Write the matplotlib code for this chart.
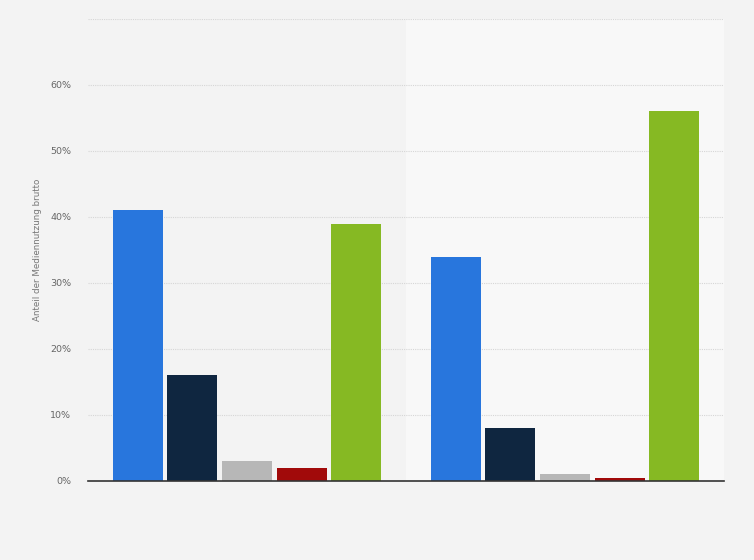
import matplotlib.pyplot as plt
import numpy as np

## Chart data
groups = ["Gruppe 1", "Gruppe 2"]
series_names = ["Serie 1", "Serie 2", "Serie 3", "Serie 4", "Serie 5"]
series_values = [
    [41, 34],
    [16, 8],
    [3, 1],
    [2, 0.4],
    [39, 56],
]
series_colors = ["#2876dd", "#0f2640", "#b7b7b7", "#a10a0a", "#86b923"]
ytick_values = [0, 10, 20, 30, 40, 50, 60]
ytick_labels = ["0%", "10%", "20%", "30%", "40%", "50%", "60%"]

fig = plt.figure(figsize=(7.54, 5.6), dpi=100, facecolor="#f3f3f3")
ax = fig.add_axes([88 / 754, 1 - 481 / 560, (724 - 88) / 754, (481 - 19) / 560])
ax.set_facecolor("#f3f3f3")

# Lighter band over the second group
ax.axvspan(0.5, 1.5, color="#f8f8f8", zorder=0)

x = np.arange(len(groups))
barWidth = 0.157
pitch = 0.172
for i, vals in enumerate(series_values):
    offset = (i - 2) * pitch
    ax.bar(x + offset, vals, width=barWidth, color=series_colors[i],
           label=series_names[i], zorder=3)

ax.set_xlim(-0.5, 1.5)
ax.set_ylim(0, 70)
ax.set_yticks(ytick_values)
ax.set_yticklabels(ytick_labels, color="#666666", fontsize=6.8)
ax.set_xticks([])
ax.tick_params(axis="y", length=0, pad=12)

# Dotted grid lines including the top one
for yv in ytick_values[1:] + [70]:
    ax.axhline(yv, color="#d6d6d6", linestyle=(0, (1, 1)), linewidth=0.8, zorder=1)

for side in ["top", "right", "left"]:
    ax.spines[side].set_visible(False)
ax.spines["bottom"].set_color("#333333")
ax.spines["bottom"].set_linewidth(1.2)
ax.spines["bottom"].set_zorder(4)

ax.set_ylabel("Anteil der Mediennutzung brutto", fontsize=6.3, color="#777777", labelpad=6)

plt.savefig("out.png", dpi=100, facecolor=fig.get_facecolor())
